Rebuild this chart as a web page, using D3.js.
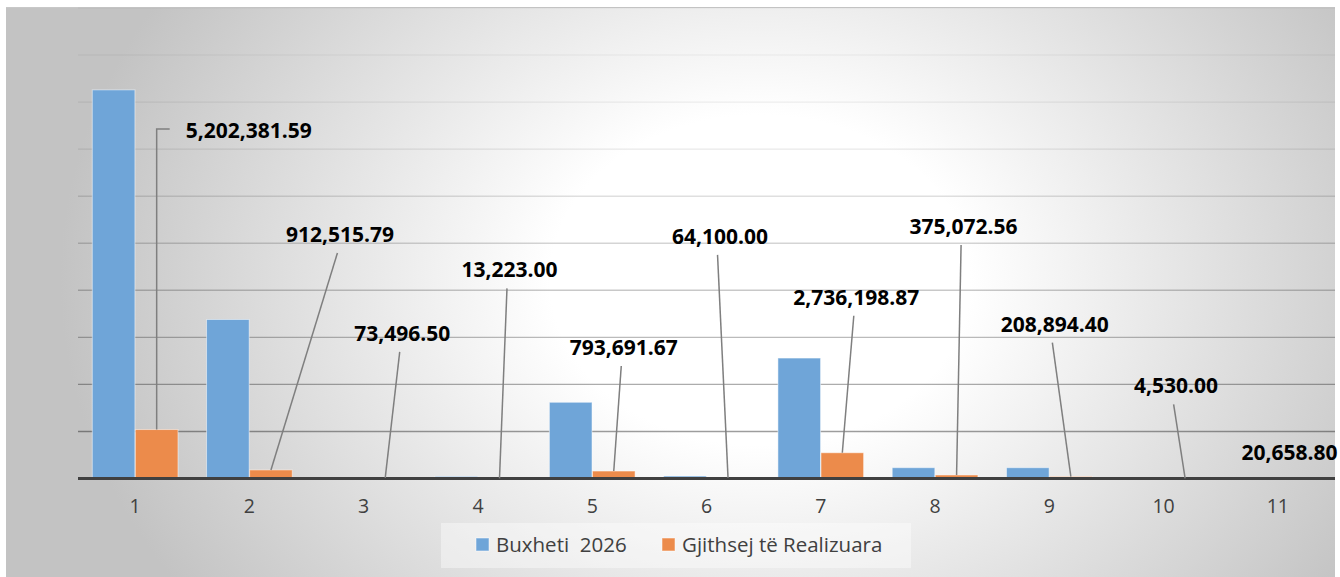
<!DOCTYPE html>
<html>
<head>
<meta charset="utf-8">
<script src="https://cdn.jsdelivr.net/npm/d3@7"></script>
<style>
body { margin: 0; background: #fff; }
text { font-family: "Open Sans", sans-serif; }
</style>
</head>
<body>
<svg id="chart" width="1340" height="577"></svg>
<script>
// data
var categories = ["1", "2", "3", "4", "5", "6", "7", "8", "9", "10", "11"];
var seriesNames = ["Buxheti  2026", "Gjithsej të Realizuara"];
var buxheti = [41300000, 16900000, 0, 220000, 8100000, 260000, 12800000, 1150000, 1150000, 0, 0];
var realizuara = [5202381.59, 912515.79, 73496.50, 13223.00, 793691.67, 64100.00, 2736198.87, 375072.56, 208894.40, 4530.00, 20658.80];
var valueLabels = ["5,202,381.59", "912,515.79", "73,496.50", "13,223.00", "793,691.67", "64,100.00",
                   "2,736,198.87", "375,072.56", "208,894.40", "4,530.00", "20,658.80"];
var yTicks = d3.range(0, 50000001, 5000000);

// label placement (offset of label centre/baseline from the bar top) and leader style
var labelOffsets = [[92, -292], [69, -228], [17, -137], [10, -201], [10, -116], [-8, -234],
                    [14, -148], [7, -241], [-16, -145], [-9, -85], [-10, -18]];
var leaderType = ["elbow", "line", "line", "line", "line", "line", "line", "line", "line", "line", "none"];

var colors = ["#6fa5d8", "#ec8b4b"];

var svg = d3.select("#chart"),
    margin = {top: 8, right: 5, bottom: 98.5, left: 78},
    width = 1335 - margin.left,
    height = 478.5 - margin.top;

var defs = svg.append("defs");
var grad = defs.append("radialGradient")
    .attr("id", "bg")
    .attr("gradientUnits", "userSpaceOnUse")
    .attr("cx", 0).attr("cy", 0).attr("r", 1)
    .attr("gradientTransform", "translate(760,280) scale(700,550)");
grad.append("stop").attr("offset", 0).attr("stop-color", "#ffffff");
grad.append("stop").attr("offset", 0.3).attr("stop-color", "#ffffff");
grad.append("stop").attr("offset", 1).attr("stop-color", "#c3c3c3");

// chart background
svg.append("rect")
    .attr("x", 6).attr("y", 7)
    .attr("width", 1329).attr("height", 570)
    .attr("fill", "url(#bg)");
svg.append("line")
    .attr("x1", 6).attr("x2", 1335).attr("y1", 7.5).attr("y2", 7.5)
    .attr("stroke", "#c8c8c8");

var g = svg.append("g").attr("transform", "translate(" + margin.left + "," + margin.top + ")");

var x0 = d3.scaleBand()
    .domain(categories)
    .range([0, width])
    .paddingInner(0.25)
    .paddingOuter(0.125);

var x1 = d3.scaleBand()
    .domain(seriesNames)
    .range([0, x0.bandwidth()])
    .paddingInner(0.01);

var y = d3.scaleLinear()
    .domain([0, 50000000])
    .range([height, 0]);

// band positions (full step) for the category scale
var step = x0.step();
function catLeft(c) { return categories.indexOf(c) * step; }
function barX(c, k) { return catLeft(c) + (step - x0.bandwidth()) / 2 + x1(k); }

// gridlines, fading toward the top
var gridAlpha = d3.scalePow().exponent(1.6).domain([0, height]).range([0.03, 0.45]);
g.append("g")
    .selectAll("line")
    .data(yTicks.filter(function(d) { return d > 0; }))
    .enter().append("line")
    .attr("x1", 0).attr("x2", width)
    .attr("y1", function(d) { return y(d); })
    .attr("y2", function(d) { return y(d); })
    .attr("stroke", "#000")
    .attr("stroke-opacity", function(d) { return gridAlpha(y(d)); })
    .attr("stroke-width", 1.4);

// bars
var rows = categories.map(function(c, i) {
    return {cat: c, vals: [{key: seriesNames[0], value: buxheti[i]}, {key: seriesNames[1], value: realizuara[i]}]};
});

g.append("g")
    .selectAll("g")
    .data(rows)
    .enter().append("g")
    .selectAll("rect")
    .data(function(d) { return d.vals.map(function(v) { return {cat: d.cat, key: v.key, value: v.value}; }); })
    .enter().append("rect")
    .attr("x", function(d) { return barX(d.cat, d.key); })
    .attr("y", function(d) { return y(d.value); })
    .attr("width", x1.bandwidth())
    .attr("height", function(d) { return height - y(d.value); })
    .attr("fill", function(d) { return colors[seriesNames.indexOf(d.key)]; })
    .attr("stroke", "rgba(255,255,255,0.5)")
    .attr("stroke-width", function(d) { return d.value > 0 ? 1 : 0; });

// baseline
g.append("line")
    .attr("x1", 0).attr("x2", width)
    .attr("y1", height).attr("y2", height)
    .attr("stroke", "#404040")
    .attr("stroke-width", 3);

// category axis
var xAxis = g.append("g")
    .attr("transform", "translate(0," + height + ")")
    .call(d3.axisBottom(x0).tickSize(0).tickPadding(21));
xAxis.select(".domain").remove();
xAxis.selectAll("text")
    .attr("fill", "#404040")
    .style("font-size", "19.5px")
    .style("font-family", "'Open Sans', sans-serif");
xAxis.selectAll(".tick")
    .attr("transform", function(d) { return "translate(" + (catLeft(d) + step / 2) + ",0)"; });

// data labels with leader lines
var labels = rows.map(function(d, i) {
    var ax = barX(d.cat, seriesNames[1]) + x1.bandwidth() / 2,
        ay = y(realizuara[i]);
    return {text: valueLabels[i], ax: ax, ay: ay,
            lx: ax + labelOffsets[i][0], ly: ay + labelOffsets[i][1], type: leaderType[i]};
});

var lab = g.append("g").selectAll("g").data(labels).enter().append("g");

lab.filter(function(d) { return d.type !== "none"; })
    .append("path")
    .attr("fill", "none")
    .attr("stroke", "#7f7f7f")
    .attr("stroke-width", 1.5)
    .attr("d", function(d) {
        if (d.type === "elbow") {
            var ym = d.ly - 8.5;
            return "M" + d.ax + "," + d.ay + "V" + ym + "H" + (d.ax + 13);
        }
        return "M" + d.ax + "," + d.ay + "L" + (d.lx - 2.5) + "," + (d.ly + 11);
    });

lab.append("text")
    .attr("x", function(d) { return d.lx; })
    .attr("y", function(d) { return d.ly; })
    .attr("text-anchor", "middle")
    .attr("font-weight", "bold")
    .attr("font-size", 21)
    .attr("fill", "#000")
    .text(function(d) { return d.text; });

// legend
var legend = svg.append("g");
legend.append("rect")
    .attr("x", 441).attr("y", 523)
    .attr("width", 470).attr("height", 45)
    .attr("fill", "rgba(255,255,255,0.4)");

var legendX = [476, 662];
var item = legend.selectAll("g")
    .data(seriesNames)
    .enter().append("g")
    .attr("transform", function(d, i) { return "translate(" + legendX[i] + ",538)"; });

item.append("rect")
    .attr("width", 13).attr("height", 13)
    .attr("fill", function(d, i) { return colors[i]; })
    .attr("stroke", "rgba(255,255,255,0.5)");

item.append("text")
    .attr("x", 20)
    .attr("y", 13.5)
    .attr("font-size", 20.5)
    .attr("fill", "#404040")
    .style("white-space", "pre")
    .text(function(d) { return d; });
</script>
</body>
</html>
